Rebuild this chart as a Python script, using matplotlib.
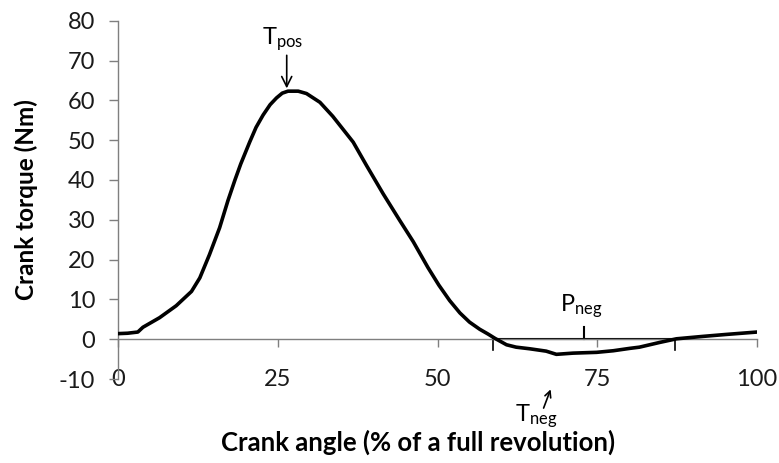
import matplotlib
matplotlib.use('Agg')
import matplotlib.pyplot as plt

plt.rcParams['font.family'] = ['Lato', 'DejaVu Sans']
plt.rcParams['axes.unicode_minus'] = False

# crank torque over one revolution
angle = [0, 1.5, 3.1, 3.9, 5.2, 6.5, 9.1, 11.5, 12.8, 14.3, 15.9, 17.2, 18.3,
         19.2, 20.6, 21.6, 22.7, 23.8, 24.8, 25.7, 26.6, 28.2, 29.5, 31.6,
         33.6, 36.8, 38.9, 41.5, 44.1, 46.2, 48.5, 50.2, 51.9, 53.5, 55.0,
         56.6, 57.9, 59.0, 60.8, 62.3, 64.4, 67.0, 68.6, 71.2, 74.9, 77.5,
         80.1, 81.6, 84.8, 87.4, 91.5, 95.2, 100]
torque = [1.4, 1.5, 1.8, 3.0, 4.2, 5.4, 8.4, 12.0, 15.4, 21.2, 28.0, 34.8, 40.0,
          44.0, 49.5, 53.2, 56.3, 58.9, 60.6, 61.8, 62.3, 62.3, 61.7, 59.5,
          56.0, 49.5, 43.6, 36.5, 29.8, 24.5, 18.0, 13.6, 9.7, 6.6, 4.3,
          2.5, 1.3, 0.2, -1.4, -2.0, -2.4, -3.0, -3.8, -3.5, -3.3, -2.9,
          -2.3, -2.0, -0.8, 0.1, 0.7, 1.2, 1.8]

x_ticks = [0, 25, 50, 75, 100]
y_ticks = [-10, 0, 10, 20, 30, 40, 50, 60, 70, 80]

neg_start, neg_end = 58.7, 87.2   # negative torque phase
p_neg_x = 73.0
t_pos = (26.4, 63.0)
t_neg = (67.7, -12.6)

fig = plt.figure(figsize=(7.79, 4.63), dpi=100)
ax = fig.add_axes([0.1515, 0.1814, 0.8203, 0.7739])

ax.plot(angle, torque, color='black', lw=2.6, solid_joinstyle='round', zorder=3)

# negative phase bracket
ax.plot([neg_start, neg_end], [0, 0], color='black', lw=1.5, zorder=2)
ax.plot([neg_start, neg_start], [0, -2.8], color='black', lw=1.2, zorder=2)
ax.plot([neg_end, neg_end], [0, -2.8], color='black', lw=1.2, zorder=2)
ax.plot([p_neg_x, p_neg_x], [0, 3.0], color='black', lw=1.5, zorder=2)

ax.set_xlim(0, 100)
ax.set_ylim(-10, 80)

for s in ['top', 'right']:
    ax.spines[s].set_visible(False)
ax.spines['left'].set_color('#7f7f7f')
ax.spines['left'].set_linewidth(1.0)
ax.spines['bottom'].set_position(('data', 0))
ax.spines['bottom'].set_color('#7f7f7f')
ax.spines['bottom'].set_linewidth(1.0)

ax.set_xticks(x_ticks)
ax.set_yticks(y_ticks)
ax.tick_params(axis='y', direction='out', length=6.5, width=1.0, color='#7f7f7f',
               pad=10, labelsize=17, labelcolor='#1a1a1a')
ax.tick_params(axis='x', direction='out', length=5.5, width=1.0, color='#7f7f7f',
               pad=16, labelsize=17, labelcolor='#1a1a1a')

ax.set_xlabel('Crank angle (% of a full revolution)', fontsize=18.5, fontweight='bold')
ax.xaxis.set_label_coords(0.469, -0.14)
ax.set_ylabel('Crank torque (Nm)', fontsize=17.5, fontweight='bold')
ax.yaxis.set_label_coords(-0.125, 0.5)

ax.annotate('', xy=t_pos, xytext=(t_pos[0], 71.3),
            arrowprops=dict(arrowstyle='->', lw=1.2, color='black', mutation_scale=18,
                            shrinkA=0, shrinkB=0))
ax.text(22.6, 75.5, r'$\mathregular{T_{pos}}$', fontsize=17, va='center', ha='left')

ax.annotate('', xy=t_neg, xytext=(66.6, -17.3), annotation_clip=False,
            arrowprops=dict(arrowstyle='->', lw=1.2, color='black', mutation_scale=11,
                            shrinkA=0, shrinkB=0))
ax.text(62.1, -19.2, r'$\mathregular{T_{neg}}$', fontsize=17, va='center', ha='left',
        clip_on=False)

ax.text(69.1, 8.2, r'$\mathregular{P_{neg}}$', fontsize=17, va='center', ha='left')

fig.savefig('out.png', dpi=100)
